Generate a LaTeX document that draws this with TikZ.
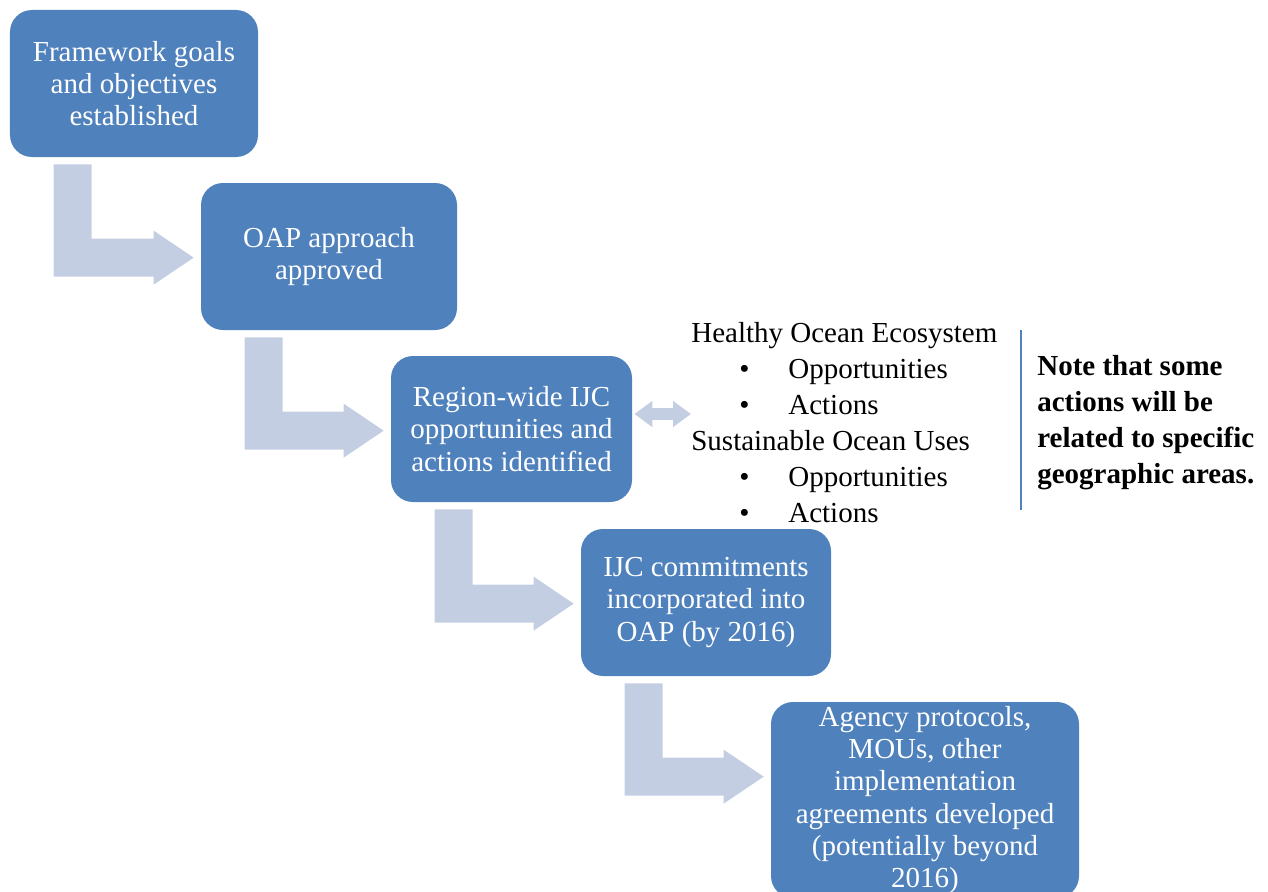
\documentclass[tikz,border=0pt]{standalone}
\usepackage{fontspec}
\setmainfont{Liberation Serif}
\usetikzlibrary{positioning,calc,arrows.meta}
\definecolor{boxblue}{RGB}{79,129,189}
\definecolor{arrowblue}{RGB}{196,206,227}
\newcommand{\itm}[1]{\hspace*{0.96cm}\makebox[0.98cm][l]{\textbullet}#1}
\newcommand{\bentarrow}[2]{%
  \path[fill=arrowblue] let \p1=($(#1.south west)+(0.88,-0.14)$), \p2=($(#2.north west)+(-0.14,-1.5)$) in
    (\x1,\y1) -- (\x1+0.76cm,\y1) -- (\x1+0.76cm,\y2+0.38cm) -- (\x2-0.8cm,\y2+0.38cm)
    -- (\x2-0.8cm,\y2+0.54cm) -- (\x2,\y2) -- (\x2-0.8cm,\y2-0.54cm) -- (\x2-0.8cm,\y2-0.38cm)
    -- (\x1,\y2-0.38cm) -- cycle;}

\begin{document}
\begin{tikzpicture}[node distance=3cm,on grid,
  box/.style={rectangle,rounded corners=0.44cm,fill=boxblue,text=white,align=center,inner sep=0pt,
    font=\fontsize{16.5}{18.4}\selectfont},
  plain/.style={align=left,inner sep=0pt,font=\fontsize{16.5}{20.5}\selectfont}]
  \useasboundingbox (0,0) rectangle (25.36,-17.84);
  \node[box,minimum width=4.96cm,minimum height=2.94cm] (goals) at (2.68,-1.67) {Framework goals\\and objectives\\established};
  \node[box,minimum width=5.12cm,minimum height=2.94cm] (oap) [below right=3.46cm and 3.9cm of goals] {OAP approach\\approved};
  \node[box,minimum width=4.82cm,minimum height=2.92cm] (region) [below right=3.45cm and 3.65cm of oap] {Region-wide IJC\\opportunities and\\actions identified};
  \node[box,minimum width=5cm,minimum height=2.94cm] (commit) [below right=3.47cm and 3.89cm of region] {IJC commitments\\incorporated into\\OAP (by 2016)};
  \node[box,minimum width=6.16cm,minimum height=3.92cm] (agree) [below right=3.95cm and 4.38cm of commit] {Agency protocols,\\MOUs, other\\implementation\\agreements developed\\(potentially beyond\\2016)};
  \node[plain,anchor=west] (themes) at (13.82,-8.45) {Healthy Ocean Ecosystem\\ \itm{Opportunities}\\ \itm{Actions}\\
    Sustainable Ocean Uses\\ \itm{Opportunities}\\ \itm{Actions}};
  \node[plain,anchor=west,font=\fontsize{16.5}{20.5}\selectfont\bfseries] (note) at (20.74,-8.46) {Note that some\\actions will be\\related to specific\\geographic areas.};
  \draw[boxblue,line width=0.85pt] (20.42,-6.6) -- (20.42,-10.2);
  \bentarrow{goals}{oap}
  \bentarrow{oap}{region}
  \bentarrow{region}{commit}
  \bentarrow{commit}{agree}
  \draw[arrowblue,line width=0.24cm,{Triangle[width=0.5cm,length=0.36cm]}-{Triangle[width=0.5cm,length=0.36cm]}]
    ([xshift=0.04cm,yshift=0.3cm]region.east) -- ([yshift=0.3cm]region.east -| themes.west);
\end{tikzpicture}
\end{document}
